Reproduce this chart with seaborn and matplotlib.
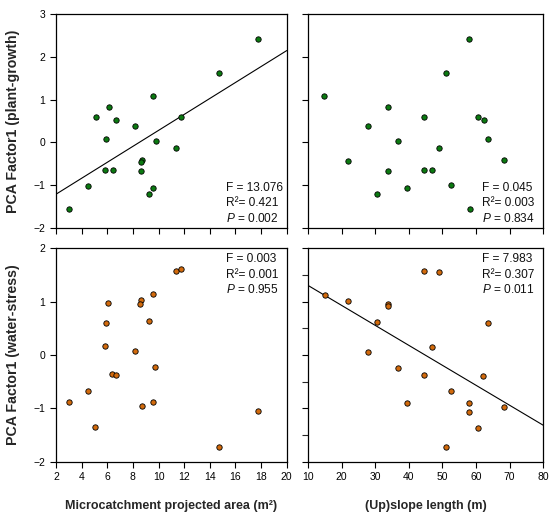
import matplotlib
matplotlib.use("Agg")
import matplotlib.pyplot as plt
import seaborn as sns
import pandas as pd

# data
area_top = [3.04, 4.52, 5.09, 5.81, 5.94, 6.12, 6.41, 6.72, 8.17, 8.69, 8.66, 8.61,
            9.60, 9.78, 9.29, 9.60, 11.36, 11.75, 14.68, 17.77]
growth_top = [-1.57, -1.01, 0.59, -0.64, 0.07, 0.83, -0.65, 0.52, 0.37, -0.42, -0.45, -0.68,
              1.08, 0.03, -1.22, -1.06, -0.14, 0.59, 1.62, 2.42]

slope_top = [14.9, 21.8, 27.9, 30.4, 33.7, 33.9, 36.8, 39.5, 44.4, 44.4, 46.8, 49.0,
             51.0, 52.6, 57.9, 58.2, 60.6, 62.4, 63.5, 68.3]
growth_slope = [1.08, -0.43, 0.37, -1.21, -0.68, 0.82, 0.03, -1.06, 0.59, -0.65, -0.64, -0.14,
                1.62, -1.00, 2.42, -1.57, 0.59, 0.52, 0.07, -0.41]

area_bot = [3.01, 4.46, 5.03, 5.81, 5.89, 6.07, 6.38, 6.69, 8.14, 8.64, 8.58, 8.69,
            9.26, 9.55, 9.60, 9.75, 11.39, 11.78, 14.71, 17.79]
stress_area = [-0.875, -0.67, -1.34, 0.16, 0.60, 0.97, -0.36, -0.38, 0.07, 1.02, 0.95, -0.96,
               0.63, -0.875, 1.15, -0.225, 1.58, 1.60, -1.725, -1.04]

slope_bot = [14.97, 21.8, 27.9, 30.4, 33.7, 33.9, 36.8, 39.5, 44.4, 44.4, 46.8, 49.0,
             51.0, 52.7, 58.0, 57.9, 60.6, 62.2, 63.5, 68.3]
stress_slope = [1.125, 1.01, 0.05, 0.61, 0.95, 0.92, -0.24, -0.89, 1.58, -0.375, 0.15, 1.56,
                -1.73, -0.68, -0.89, -1.06, -1.36, -0.39, 0.59, -0.97]

stats_tl = ["F = 13.076", "R\u00b2= 0.421", "$\\mathit{P}$ = 0.002"]
stats_tr = ["F = 0.045", "R\u00b2= 0.003", "$\\mathit{P}$ = 0.834"]
stats_bl = ["F = 0.003", "R\u00b2= 0.001", "$\\mathit{P}$ = 0.955"]
stats_br = ["F = 7.983", "R\u00b2= 0.307", "$\\mathit{P}$ = 0.011"]

sns.set_style("ticks")
plt.rcParams['font.family'] = ['Liberation Sans', 'DejaVu Sans']
plt.rcParams['mathtext.fontset'] = 'custom'
plt.rcParams['mathtext.rm'] = 'Liberation Sans'
plt.rcParams['mathtext.it'] = 'Liberation Sans:italic'

green = "#0b7a10"
orange = "#d26a0c"

fig = plt.figure(figsize=(5.56, 5.19), dpi=100)
h = 0.412
ax_tl = fig.add_axes([0.1007, 0.561, 0.415, h])
ax_tr = fig.add_axes([0.554, 0.561, 0.423, h])
ax_bl = fig.add_axes([0.1007, 0.110, 0.415, h])
ax_br = fig.add_axes([0.554, 0.110, 0.423, h])


def panel(ax, x, y, color, fit, stats, top_text, xlim, ylim):
    df = pd.DataFrame({"x": x, "y": y})
    ax.set_xlim(*xlim)
    ax.set_ylim(*ylim)
    sns.scatterplot(data=df, x="x", y="y", ax=ax, color=color, s=15,
                    edgecolor="black", linewidth=0.6, zorder=3)
    if fit:
        sns.regplot(data=df, x="x", y="y", ax=ax, scatter=False, ci=None,
                    truncate=False, line_kws={"color": "black", "lw": 0.8})
    ax.set_xlim(*xlim)
    ax.set_ylim(*ylim)
    ax.set_xlabel("")
    ax.set_ylabel("")
    for s in ax.spines.values():
        s.set_visible(True)
        s.set_linewidth(0.9)
        s.set_color("black")
    ax.tick_params(direction="out", length=4, width=0.8, labelsize=7.5,
                   top=False, right=False, colors="black")
    ax.tick_params(axis="both", which="minor", length=4, width=0.8)
    ys = [0.949, 0.876, 0.806] if top_text else [0.185, 0.115, 0.045]
    for t, yy in zip(stats, ys):
        ax.text(0.738, yy, t, transform=ax.transAxes, fontsize=8.6,
                ha="left", va="center", color="#111111")


panel(ax_tl, area_top, growth_top, green, True, stats_tl, False, (2, 20), (-2, 3))
panel(ax_tr, slope_top, growth_slope, green, False, stats_tr, False, (10, 80), (-2, 3))
panel(ax_bl, area_bot, stress_area, orange, False, stats_bl, True, (2, 20), (-2, 2))
panel(ax_br, slope_bot, stress_slope, orange, True, stats_br, True, (10, 80), (-2, 2))

for ax in (ax_tl, ax_bl):
    ax.set_xticks(range(2, 21, 2))
for ax in (ax_tr, ax_br):
    ax.set_xticks(range(10, 81, 10))
    ax.set_yticklabels([])
for ax in (ax_tl, ax_tr):
    ax.set_yticks(range(-2, 4))
    ax.set_xticklabels([])
for ax in (ax_bl, ax_br):
    ax.set_yticks(range(-2, 3))
ax_tr.set_yticklabels([])
ax_br.set_yticklabels([])
ax_br.set_yticks([-1.5, -0.5, 0.5, 1.5], minor=True)

ax_tl.set_ylabel("PCA Factor1 (plant-growth)", fontsize=10.2, fontweight="bold", labelpad=10)
ax_bl.set_ylabel("PCA Factor1 (water-stress)", fontsize=10.2, fontweight="bold", labelpad=10)
ax_bl.set_xlabel("Microcatchment projected area (m\u00b2)", fontsize=9, fontweight="bold", labelpad=13)
ax_br.set_xlabel("(Up)slope length (m)", fontsize=9, fontweight="bold", labelpad=13)

fig.savefig("out.png", dpi=100)
